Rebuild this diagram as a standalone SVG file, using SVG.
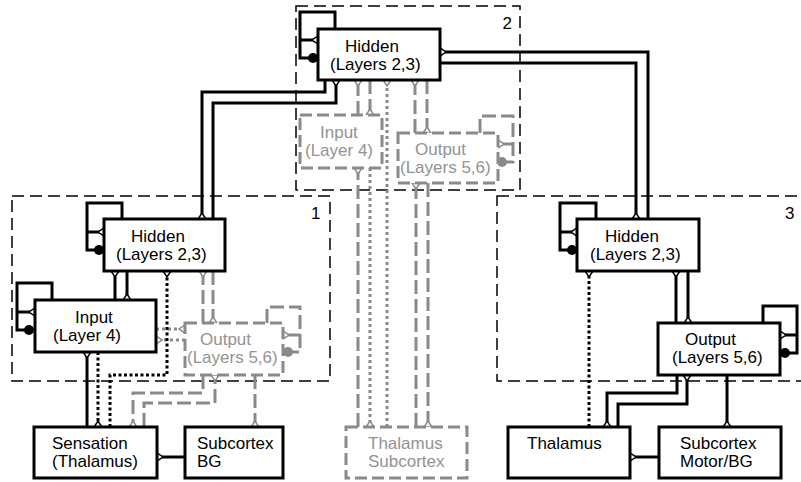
<svg xmlns="http://www.w3.org/2000/svg" width="801" height="482" viewBox="0 0 801 482">
<style>
.region{fill:none;stroke:#000;stroke-width:1.5;stroke-dasharray:12 6}
.box{fill:#fff;stroke:#000;stroke-width:3}
.gbox{fill:#fff;stroke:#8a8a8a;stroke-width:3;stroke-dasharray:12 5}
.c{fill:none;stroke:#000;stroke-width:3}
.cd{fill:none;stroke:#000;stroke-width:3;stroke-dasharray:3 2.5}
.g{fill:none;stroke:#8a8a8a;stroke-width:3;stroke-dasharray:14 5}
.gd{fill:none;stroke:#8a8a8a;stroke-width:3;stroke-dasharray:3 3}
.t{font-family:"Liberation Sans",Arial,sans-serif;font-size:17px;fill:#000}
.tg{fill:#939393}
.cb{fill:#000}
.cg{fill:#8a8a8a}
</style>
<defs>
<marker id="mb" viewBox="-8 -6 10 12" refX="0" refY="0" markerWidth="10" markerHeight="12" orient="auto" markerUnits="userSpaceOnUse" overflow="visible"><path d="M0,-4 L0,4 L-6,0 Z" fill="#fff" stroke="#000" stroke-width="1.5"/></marker>
<marker id="mg" viewBox="-8 -6 10 12" refX="0" refY="0" markerWidth="10" markerHeight="12" orient="auto" markerUnits="userSpaceOnUse" overflow="visible"><path d="M0,-4 L0,4 L-6,0 Z" fill="#fff" stroke="#8a8a8a" stroke-width="1.5"/></marker>
</defs>

<g id="regions">
<rect class="region" x="296" y="6" width="224" height="184"/>
<rect class="region" x="12" y="196" width="318" height="185"/>
<rect class="region" x="497" y="196" width="306" height="185"/>
<text class="t" x="502.5" y="29">2</text>
<text class="t" x="311" y="219">1</text>
<text class="t" x="785" y="219">3</text>
</g>

<g id="connectors">
<!-- self loops black -->
<path class="c" d="M335,29 V12 H300 V58 H309"/>
<path class="c" d="M300,40 H318" marker-end="url(#mb)"/>
<circle class="cb" cx="313" cy="58" r="5"/>
<path class="c" d="M122,219 V203 H87 V250 H95"/>
<path class="c" d="M87,232 H104" marker-end="url(#mb)"/>
<circle class="cb" cx="99" cy="250" r="5"/>
<path class="c" d="M52,300 V283 H17 V330 H25"/>
<path class="c" d="M17,312 H35" marker-end="url(#mb)"/>
<circle class="cb" cx="29" cy="330" r="5"/>
<path class="c" d="M596,219 V203 H560 V250 H568"/>
<path class="c" d="M560,232 H577" marker-end="url(#mb)"/>
<circle class="cb" cx="572" cy="250" r="5"/>
<path class="c" d="M763,323 V306 H797 V353 H789"/>
<path class="c" d="M797,335 H780" marker-end="url(#mb)"/>
<circle class="cb" cx="785" cy="353" r="5"/>
<!-- self loops gray -->
<path class="g" d="M267,323 V307 H300 V352 H292"/>
<path class="g" d="M300,335 H283" marker-end="url(#mg)" style="stroke-dasharray:none"/>
<circle class="cg" cx="288" cy="352" r="5"/>
<path class="g" d="M480,133 V116 H513 V162 H506"/>
<path class="g" d="M513,144 H498" marker-end="url(#mg)" style="stroke-dasharray:none"/>
<circle class="cg" cx="502" cy="162" r="5"/>

<!-- hidden2 <-> hidden1 -->
<path class="c" d="M325,80 V92 H202 V219" marker-end="url(#mb)"/>
<path class="c" d="M213,219 V103 H336 V80" marker-end="url(#mb)"/>
<!-- hidden2 <-> hidden3 -->
<path class="c" d="M648,219 V52 H440" marker-end="url(#mb)"/>
<path class="c" d="M440,63 H636 V219" marker-end="url(#mb)"/>

<!-- area 2 gray -->
<path class="g" d="M358,115 V80" marker-end="url(#mg)"/>
<path class="g" d="M370,80 V115" marker-end="url(#mg)"/>
<path class="gd" d="M387,427 V80" marker-end="url(#mg)"/>
<path class="g" d="M415,133 V80" marker-end="url(#mg)"/>
<path class="g" d="M427,80 V133" marker-end="url(#mg)"/>
<path class="g" d="M358,427 V168" marker-end="url(#mg)"/>
<path class="gd" d="M370,168 V427" marker-end="url(#mg)"/>
<path class="g" d="M416,427 V183" marker-end="url(#mg)"/>
<path class="g" d="M428,183 V427" marker-end="url(#mg)"/>

<!-- area 1 -->
<path class="c" d="M115,300 V271" marker-end="url(#mb)"/>
<path class="c" d="M127,271 V300" marker-end="url(#mb)"/>
<path class="g" d="M203,323 V271" marker-end="url(#mg)"/>
<path class="g" d="M213,271 V323" marker-end="url(#mg)"/>
<path class="gd" d="M156,329 H185" marker-end="url(#mg)"/>
<path class="gd" d="M185,340 H156" marker-end="url(#mg)"/>
<path class="cd" d="M110,427 V375 H167 V271" marker-end="url(#mb)"/>
<path class="cd" d="M98,352 V427" marker-end="url(#mb)"/>
<path class="c" d="M87,427 V352" marker-end="url(#mb)"/>
<path class="g" d="M203,375 V393 H133 V427" marker-end="url(#mg)"/>
<path class="g" d="M144,427 V403 H215 V375" marker-end="url(#mg)"/>
<path class="g" d="M255,375 V427" marker-end="url(#mg)"/>
<path class="c" d="M185,457 H157" marker-end="url(#mb)"/>

<!-- area 3 -->
<path class="c" d="M676,323 V271" marker-end="url(#mb)"/>
<path class="c" d="M688,271 V323" marker-end="url(#mb)"/>
<path class="cd" d="M589,427 V271" marker-end="url(#mb)"/>
<path class="c" d="M677,375 V393 H607 V427" marker-end="url(#mb)"/>
<path class="c" d="M618,427 V404 H687 V375" marker-end="url(#mb)"/>
<path class="c" d="M727,375 V427" marker-end="url(#mb)"/>
<path class="c" d="M659,457 H630" marker-end="url(#mb)"/>
</g>

<g id="hidden2"><rect class="box" x="318" y="29" width="122" height="51"/><text class="t" x="345" y="52">Hidden</text><text class="t" x="330" y="70">(Layers 2,3)</text></g>
<g id="input2"><rect class="gbox" x="300" y="115" width="82" height="53"/><text class="t tg" x="320" y="138">Input</text><text class="t tg" x="305" y="156">(Layer 4)</text></g>
<g id="output2"><rect class="gbox" x="398" y="133" width="100" height="50"/><text class="t tg" x="415" y="155">Output</text><text class="t tg" x="400" y="173">(Layers 5,6)</text></g>
<g id="hidden1"><rect class="box" x="104" y="219" width="121" height="52"/><text class="t" x="131" y="242">Hidden</text><text class="t" x="116" y="260">(Layers 2,3)</text></g>
<g id="input1"><rect class="box" x="35" y="300" width="121" height="52"/><text class="t" x="75" y="323">Input</text><text class="t" x="53" y="341">(Layer 4)</text></g>
<g id="output1"><rect class="gbox" x="185" y="323" width="98" height="52"/><text class="t tg" x="200" y="345">Output</text><text class="t tg" x="187" y="363">(Layers 5,6)</text></g>
<g id="hidden3"><rect class="box" x="577" y="219" width="122" height="52"/><text class="t" x="605" y="242">Hidden</text><text class="t" x="590" y="260">(Layers 2,3)</text></g>
<g id="output3"><rect class="box" x="658" y="323" width="122" height="52"/><text class="t" x="685" y="345">Output</text><text class="t" x="672" y="363">(Layers 5,6)</text></g>
<g id="sensation"><rect class="box" x="34" y="427" width="123" height="51"/><text class="t" x="52" y="449">Sensation</text><text class="t" x="52" y="467">(Thalamus)</text></g>
<g id="subcortex-bg"><rect class="box" x="185" y="427" width="98" height="51"/><text class="t" x="197" y="449">Subcortex</text><text class="t" x="197" y="467">BG</text></g>
<g id="thalamus-subcortex"><rect class="gbox" x="346" y="427" width="121" height="51"/><text class="t tg" x="368" y="449">Thalamus</text><text class="t tg" x="368" y="467">Subcortex</text></g>
<g id="thalamus"><rect class="box" x="508" y="427" width="122" height="51"/><text class="t" x="527" y="449">Thalamus</text></g>
<g id="subcortex-motor"><rect class="box" x="659" y="427" width="122" height="51"/><text class="t" x="680" y="449">Subcortex</text><text class="t" x="680" y="467">Motor/BG</text></g>
</svg>
